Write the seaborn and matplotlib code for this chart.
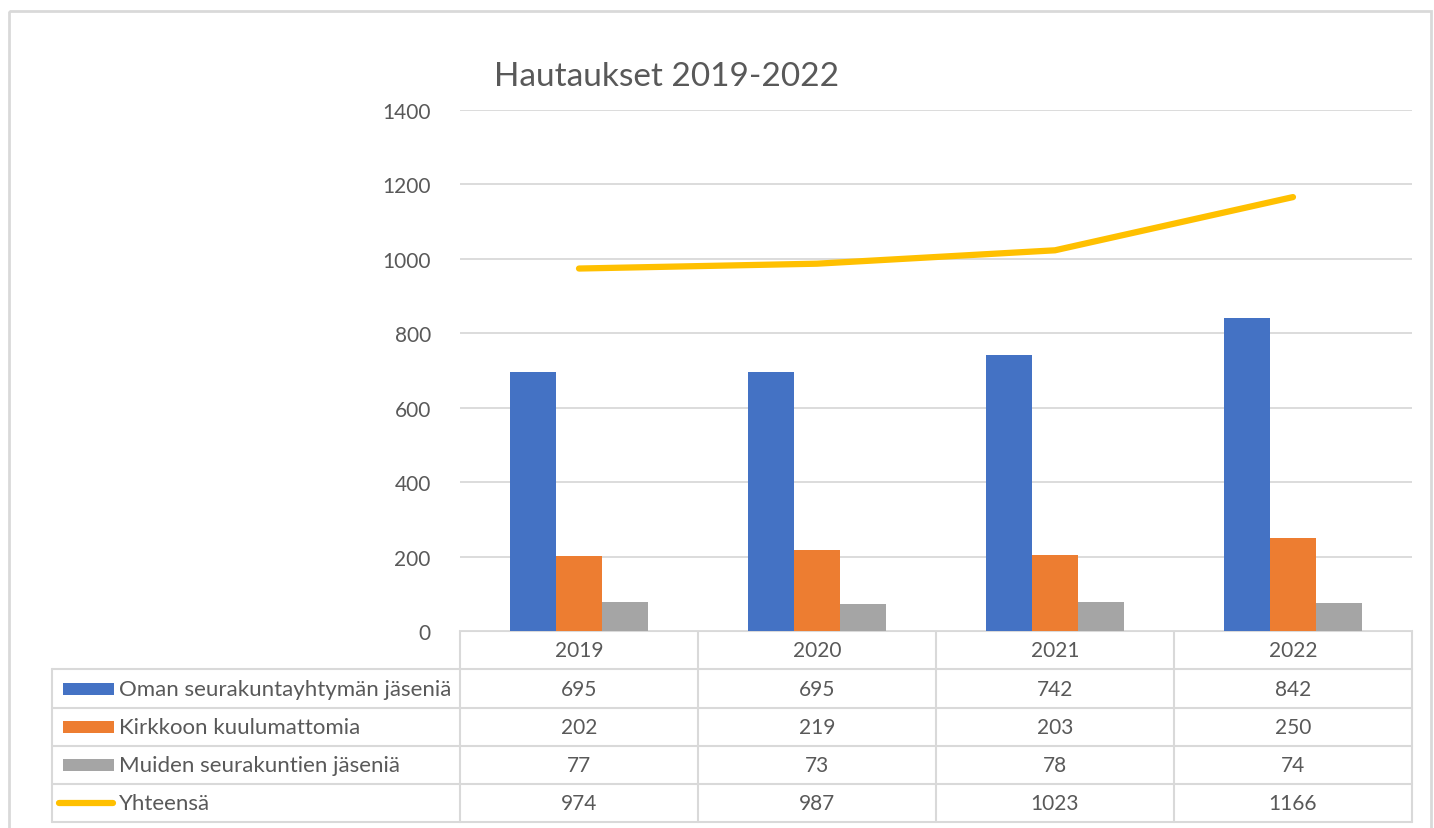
import numpy as np
import pandas as pd
import matplotlib
matplotlib.use("Agg")
import matplotlib.pyplot as plt
import seaborn as sns
from matplotlib.patches import Rectangle

# ─── DATA ────────────────────────────────────────────────────
years = ["2019", "2020", "2021", "2022"]
series = ["Oman seurakuntayhtymän jäseniä", "Kirkkoon kuulumattomia", "Muiden seurakuntien jäseniä"]
oman = [695, 695, 742, 842]
kirkko = [202, 219, 203, 250]
muiden = [77, 73, 78, 74]
total_label = "Yhteensä"
yhteensa = [974, 987, 1023, 1166]
title = "Hautaukset 2019-2022"

colors = ["#4472C4", "#ED7D31", "#A5A5A5"]
line_color = "#FFC000"
TXT = "#595959"
GRID = "#D9D9D9"

# ─── SETUP ───────────────────────────────────────────────────
W, H = 1434, 829
sns.set_theme(style="white")
plt.rcParams["font.family"] = ["Lato", "DejaVu Sans"]

fig = plt.figure(figsize=(W / 100, H / 100), dpi=100)

# plot area in pixels
left, right, top, bottom = 460, 1412, 111, 632
ax = fig.add_axes([left / W, 1 - bottom / H, (right - left) / W, (bottom - top) / H])

df = pd.DataFrame({
    "year": years * len(series),
    "series": np.repeat(series, len(years)),
    "value": oman + kirkko + muiden,
})
sns.barplot(data=df, x="year", y="value", hue="series", hue_order=series,
            palette=colors, width=0.58, saturation=1, legend=False, ax=ax,
            linewidth=0, zorder=3)
sns.lineplot(x=np.arange(len(years)), y=yhteensa, color=line_color, lw=4.5, ax=ax, zorder=4)
ax.lines[-1].set_solid_capstyle("round")

ax.set_xlim(-0.5, len(years) - 0.5)
ax.set_ylim(0, 1400)
ax.set_yticks(range(0, 1401, 200))
ax.set_xticks([])
ax.set_xlabel("")
ax.set_ylabel("")
ax.grid(axis="y", color=GRID, lw=1.3, zorder=0)
ax.tick_params(axis="y", length=0, pad=21, labelsize=15, labelcolor=TXT)
for sp in ax.spines.values():
    sp.set_visible(False)

# ─── OVERLAY: border, title, data table ──────────────────────
ov = fig.add_axes([0, 0, 1, 1], zorder=-1)
ov.set_xlim(0, W)
ov.set_ylim(H, 0)
ov.axis("off")

ov.add_patch(Rectangle((9, 12), 1422, 840, fill=False, ec=GRID, lw=2))
ov.text(494, 77, title, fontsize=24, color=TXT, va="center", ha="left")

colw = (right - left) / len(years)
tab_left = 52
rows = [632, 670, 709, 747, 785, 823]
lc = dict(color=GRID, lw=1.5)

# header row
ov.plot([left, right], [rows[0], rows[0]], **lc)
for i in range(len(years) + 1):
    ov.plot([left + i * colw] * 2, [rows[0], rows[-1]], **lc)
for i, yr in enumerate(years):
    ov.text(left + (i + 0.5) * colw, (rows[0] + rows[1]) / 2, yr,
            ha="center", va="center", fontsize=15, color=TXT)

# body rows
for r in rows[1:]:
    ov.plot([tab_left, right], [r, r], **lc)
ov.plot([tab_left, tab_left], [rows[1], rows[-1]], **lc)

labels = series + [total_label]
values = [oman, kirkko, muiden, yhteensa]
for k, (lab, vals) in enumerate(zip(labels, values)):
    cy = (rows[k + 1] + rows[k + 2]) / 2
    if k < len(series):
        ov.add_patch(Rectangle((63, cy - 6), 51, 12, color=colors[k], lw=0))
    else:
        ov.plot([59, 113], [cy, cy], color=line_color, lw=4.5, solid_capstyle="round")
    ov.text(119, cy, lab, ha="left", va="center", fontsize=16, color=TXT)
    for i, v in enumerate(vals):
        ov.text(left + (i + 0.5) * colw, cy, str(v), ha="center", va="center",
                fontsize=15, color=TXT)

fig.savefig("out.png", dpi=100)
plt.close(fig)
